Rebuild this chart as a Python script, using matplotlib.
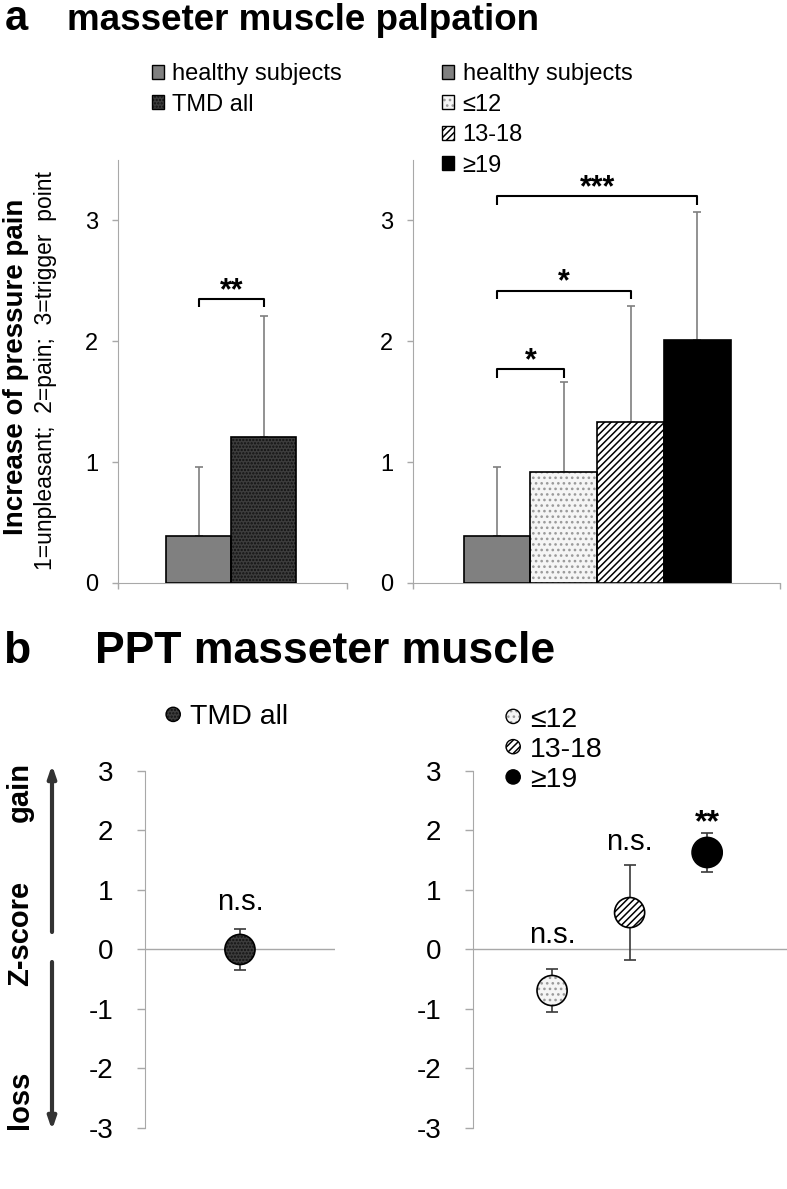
import matplotlib
matplotlib.use('Agg')
import matplotlib.pyplot as plt
import matplotlib.patches as mpatches
from matplotlib.legend_handler import HandlerPatch
import numpy as np

plt.rcParams['font.family'] = ['Liberation Sans', 'DejaVu Sans']
plt.rcParams['hatch.linewidth'] = 1.1
plt.rcParams['axes.unicode_minus'] = False

# panel a: palpation score (mean, upper SD)
groups_a1 = ['healthy subjects', 'TMD all']
pain_a1 = [0.39, 1.21]
sd_a1 = [0.57, 1.00]
groups_a2 = ['healthy subjects', '≤12', '13-18', '≥19']
pain_a2 = [0.39, 0.915, 1.335, 2.01]
sd_a2 = [0.57, 0.75, 0.955, 1.06]
# (bar i, bar j, bracket height, label)
sig_a1 = [(0, 1, 2.35, '**')]
sig_a2 = [(0, 1, 1.77, '*'), (0, 2, 2.42, '*'), (0, 3, 3.2, '***')]

# panel b: PPT z-scores
groups_b1 = ['TMD all']
z_b1 = [0.0]
zerr_b1 = [0.35]
label_b1 = ['n.s.']
labely_b1 = [0.8]
groups_b2 = ['≤12', '13-18', '≥19']
z_b2 = [-0.69, 0.62, 1.63]
zerr_b2 = [0.36, 0.8, 0.33]
label_b2 = ['n.s.', 'n.s.', '**']
labely_b2 = [0.25, 1.8, 2.12]

# face, hatch, hatch colour
styles = {
    'healthy subjects': ('#808080', None, None),
    'TMD all': ('#3d3d3d', '.....', '#111111'),
    '≤12': ('#f5f5f5', '...', '#9a9a9a'),
    '13-18': ('white', '/////', 'black'),
    '≥19': ('black', None, None),
}
GRAY = '#a8a8a8'


def style_axes(ax, ticklen, pad, labelsize):
    for s in ['top', 'right']:
        ax.spines[s].set_visible(False)
    ax.spines['left'].set_color(GRAY)
    ax.spines['bottom'].set_color(GRAY)
    ax.tick_params(axis='both', colors=GRAY, labelcolor='black', length=ticklen,
                   width=1, pad=pad, labelsize=labelsize)


def draw_bars(ax, names, vals, errs):
    x = np.arange(len(names)) - (len(names) - 1) / 2
    for xi, name, v in zip(x, names, vals):
        face, hatch, hcol = styles[name]
        ax.bar(xi, v, width=1.0, color=face, edgecolor=hcol or face, hatch=hatch,
               linewidth=0, zorder=2)
        ax.bar(xi, v, width=1.0, fill=False, edgecolor='black', linewidth=1.2, zorder=3)
    ax.errorbar(x, vals, yerr=[np.zeros(len(vals)), errs], fmt='none', ecolor='#7f7f7f',
                elinewidth=1.2, capsize=3, capthick=1.2, zorder=1)
    return x


def draw_brackets(ax, x, sigs, tick=0.07):
    for i, j, y, txt in sigs:
        ax.plot([x[i], x[i], x[j], x[j]], [y - tick, y, y, y - tick], color='black',
                lw=1.5, zorder=4, solid_capstyle='butt')
        ax.annotate(txt, ((x[i] + x[j]) / 2, y), xytext=(0, -5), textcoords='offset points',
                    ha='center', va='bottom', fontsize=22, fontweight='bold')


def draw_points(ax, names, vals, errs, labels, labely):
    x = np.arange(1, len(names) + 1)
    ax.errorbar(x, vals, yerr=errs, fmt='none', ecolor='#3a3a3a', elinewidth=1.2,
                capsize=4.5, capthick=1.2, zorder=2)
    for xi, name, v in zip(x, names, vals):
        face, hatch, hcol = styles[name]
        ax.scatter([xi], [v], s=470, color=face, edgecolors=hcol or face, hatch=hatch,
                   linewidths=0, zorder=3)
        ax.scatter([xi], [v], s=470, facecolors='none', edgecolors='black',
                   linewidths=1.2, zorder=4)
    for xi, t, ly in zip(x, labels, labely):
        bold = '*' in t
        ax.text(xi, ly, t, ha='center', va='center', fontsize=23 if bold else 21,
                fontweight='bold' if bold else 'normal')


def bar_handle(name):
    face, hatch, hcol = styles[name]
    return (mpatches.Patch(facecolor=face, edgecolor=hcol or face, hatch=hatch, linewidth=0),
            mpatches.Patch(fill=False, edgecolor='black', linewidth=1.0))


def dot_handle(name):
    face, hatch, hcol = styles[name]
    return (mpatches.Circle((0, 0), 1, facecolor=face, edgecolor=hcol or face, hatch=hatch,
                            linewidth=0),
            mpatches.Circle((0, 0), 1, fill=False, edgecolor='black', linewidth=1.0))


def make_circle(legend, orig_handle, xdescent, ydescent, width, height, fontsize):
    d = min(width, height)
    return mpatches.Ellipse((0.5 * width - xdescent, 0.5 * height - ydescent), d, d)


fig = plt.figure(figsize=(7.87, 11.89), dpi=100)

# ---- panel a ----
ax1 = fig.add_axes([0.150, 0.5097, 0.291, 0.3557])
ax2 = fig.add_axes([0.5248, 0.5097, 0.4663, 0.3557])
x1 = draw_bars(ax1, groups_a1, pain_a1, sd_a1)
x2 = draw_bars(ax2, groups_a2, pain_a2, sd_a2)
draw_brackets(ax1, x1, sig_a1)
draw_brackets(ax2, x2, sig_a2)
for ax, lim in [(ax1, (-1.74, 1.78)), (ax2, (-2.76, 2.74))]:
    ax.set_xlim(lim)
    ax.set_ylim(0, 3.5)
    ax.set_yticks([0, 1, 2, 3])
    ax.set_xticks(lim)
    ax.set_xticklabels([])
    style_axes(ax, 4.3, 10, 17)

leg_kw = dict(loc='upper left', frameon=False, borderpad=0, borderaxespad=0,
              handletextpad=0.35)
fig.legend([bar_handle(g) for g in groups_a1], groups_a1, bbox_to_anchor=(0.193, 0.947),
           fontsize=17, handlelength=0.52, handleheight=0.52, labelspacing=0.36, **leg_kw)
fig.legend([bar_handle(g) for g in groups_a2], groups_a2, bbox_to_anchor=(0.5616, 0.947),
           fontsize=17, handlelength=0.52, handleheight=0.52, labelspacing=0.36, **leg_kw)

fig.text(5 / 787, 1 - 30 / 1189, 'a', fontsize=30, fontweight='bold', va='baseline')
fig.text(67 / 787, 1 - 30 / 1189, 'masseter muscle palpation', fontsize=26.5,
         fontweight='bold', va='baseline')
fig.text(16 / 787, 1 - 367 / 1189, 'Increase of pressure pain', rotation=90, fontsize=20,
         fontweight='bold', ha='center', va='center')
fig.text(46 / 787, 1 - 371 / 1189, '1=unpleasant;  2=pain;  3=trigger  point', rotation=90,
         fontsize=16.5, ha='center', va='center')

# ---- panel b ----
ax3 = fig.add_axes([0.1842, 0.0513, 0.2414, 0.3003])
ax4 = fig.add_axes([0.601, 0.0513, 0.399, 0.3003])
draw_points(ax3, groups_b1, z_b1, zerr_b1, label_b1, labely_b1)
draw_points(ax4, groups_b2, z_b2, zerr_b2, label_b2, labely_b2)
for ax, lim in [(ax3, (0, 2)), (ax4, (-0.02, 4.03))]:
    ax.set_xlim(lim)
    ax.set_ylim(-3, 3)
    ax.set_yticks(range(-3, 4))
    ax.set_xticks([])
    ax.spines['bottom'].set_visible(False)
    ax.axhline(0, color=GRAY, lw=1, zorder=1)
    style_axes(ax, 5.8, 17, 20)

circle_map = {mpatches.Circle: HandlerPatch(patch_func=make_circle)}
fig.legend([dot_handle(g) for g in groups_b1], groups_b1, bbox_to_anchor=(0.211, 0.4075),
           fontsize=20.5, handlelength=0.5, handleheight=0.5, labelspacing=0.15,
           handler_map=circle_map, **leg_kw)
fig.legend([dot_handle(g) for g in groups_b2], groups_b2, bbox_to_anchor=(0.643, 0.4058),
           fontsize=20.5, handlelength=0.5, handleheight=0.5, labelspacing=0.15,
           handler_map=circle_map, **leg_kw)

fig.text(3 / 787, 1 - 663 / 1189, 'b', fontsize=32, fontweight='bold', va='baseline')
fig.text(95 / 787, 1 - 663 / 1189, 'PPT masseter muscle', fontsize=32, fontweight='bold',
         va='baseline')

for label, y in [('gain', 792), ('Z-score', 933), ('loss', 1100)]:
    fig.text(20 / 787, 1 - y / 1189, label, rotation=90, fontsize=21, fontweight='bold',
             ha='center', va='center')
arrow = dict(arrowstyle='-|>,head_width=0.12,head_length=0.35', lw=3, color='#333333',
             shrinkA=0, shrinkB=0)
fig.add_artist(mpatches.FancyArrowPatch((52 / 787, 1 - 932 / 1189), (52 / 787, 1 - 765 / 1189),
                                        transform=fig.transFigure, mutation_scale=20, **arrow))
fig.add_artist(mpatches.FancyArrowPatch((52 / 787, 1 - 962 / 1189), (52 / 787, 1 - 1130 / 1189),
                                        transform=fig.transFigure, mutation_scale=20, **arrow))

fig.savefig('out.png', dpi=100)
